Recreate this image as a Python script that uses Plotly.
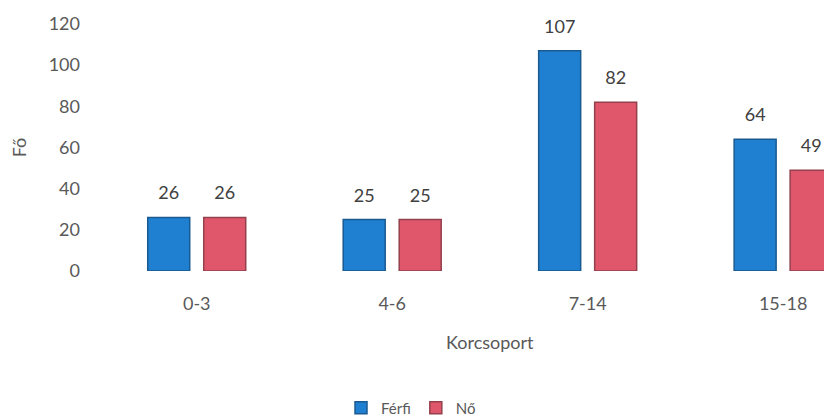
import plotly.graph_objects as go

# adatok
korcsoport = ["0-3", "4-6", "7-14", "15-18"]
ferfi = [26, 25, 107, 64]
no = [26, 25, 82, 49]

FONT = "Lato"
# nagy szám, alatta kis üres sor -> nagyobb távolság az oszlop tetejétől
LABEL = "<span style='font-size:18px'>%{y}</span><br>&nbsp;"

fig = go.Figure()

fig.add_trace(
    go.Bar(
        name="Férfi",
        x=korcsoport,
        y=ferfi,
        marker=dict(color="#1f80d2", line=dict(color="#1b5a90", width=1.5)),
        texttemplate=LABEL,
        textposition="outside",
        constraintext="none",
        textfont=dict(size=10, color="#404040", family=FONT),
        cliponaxis=False,
    )
)
fig.add_trace(
    go.Bar(
        name="Nő",
        x=korcsoport,
        y=no,
        marker=dict(color="#e0566a", line=dict(color="#93414d", width=1.5)),
        texttemplate=LABEL,
        textposition="outside",
        constraintext="none",
        textfont=dict(size=10, color="#404040", family=FONT),
        cliponaxis=False,
    )
)

# a html body 8px margót ad -> 824x412-es ábra
fig.update_layout(
    width=824,
    height=412,
    margin=dict(l=91, r=0, t=16, b=149, autoexpand=False),
    paper_bgcolor="white",
    plot_bgcolor="white",
    barmode="group",
    bargap=0.427,
    bargroupgap=0.25,
    font=dict(family=FONT, color="#595959", size=18),
    showlegend=True,
    legend=dict(
        orientation="h",
        x=(411 - 99) / 733,
        xanchor="center",
        y=-0.555,
        yanchor="middle",
        font=dict(size=15, color="#595959"),
        itemwidth=30,
    ),
)

fig.update_xaxes(
    range=[-0.5, 3.25],
    showgrid=False,
    showline=False,
    zeroline=False,
    ticks="",
    ticklabelstandoff=20,
    tickfont=dict(size=18, color="#595959"),
)
fig.update_yaxes(
    range=[0, 120],
    tickmode="linear",
    tick0=0,
    dtick=20,
    showgrid=False,
    showline=False,
    zeroline=False,
    ticklabelstandoff=18,
    tickfont=dict(size=18, color="#595959"),
    title=dict(text="Fő", font=dict(size=18, color="#595959"), standoff=26),
)

# tengelycím a teljes (levágott) diagram közepén
fig.add_annotation(
    text="Korcsoport",
    xref="paper",
    yref="paper",
    x=(490 - 99) / 733,
    y=-0.288,
    xanchor="center",
    yanchor="middle",
    showarrow=False,
    font=dict(size=18, color="#595959"),
)

fig.write_html("out.html")
